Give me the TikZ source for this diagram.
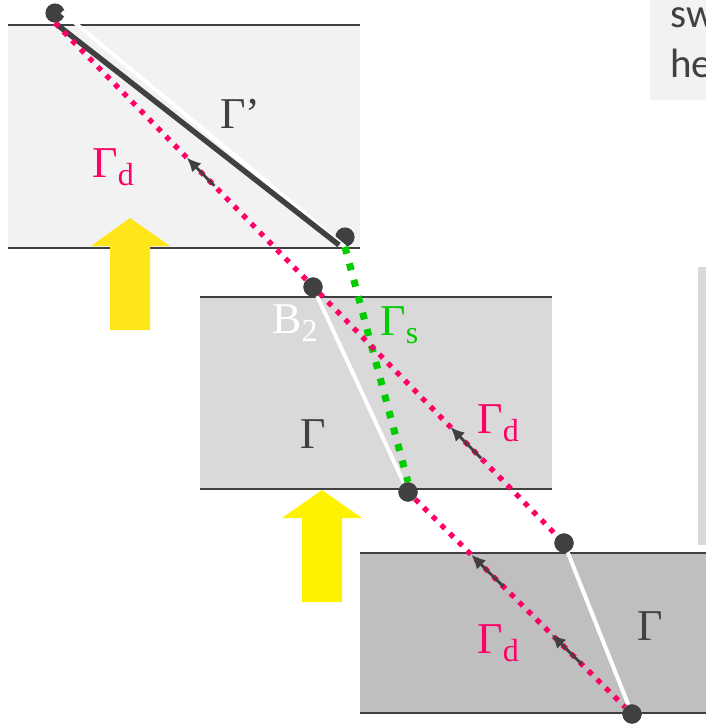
\documentclass[tikz,border=0pt]{standalone}
\usepackage{fontspec}
\setmainfont{Liberation Serif}
\newfontfamily\slidefont{Carlito}
\usetikzlibrary{arrows.meta,calc}
\definecolor{darkline}{HTML}{404040}
\definecolor{gammared}{HTML}{FF0066}
\definecolor{gammagreen}{HTML}{00CC00}
\definecolor{boxlight}{HTML}{F2F2F2}
\definecolor{boxmid}{HTML}{D9D9D9}
\definecolor{boxdark}{HTML}{BFBFBF}
\definecolor{pushyellow}{HTML}{FFE619}
\definecolor{pushyellowb}{HTML}{FFF200}
\newcommand{\lowsub}[1]{\raisebox{-4pt}{\fontsize{16}{16}\selectfont #1}}

\begin{document}
\begin{tikzpicture}[x=0.5pt,y=-0.5pt,
  dot/.style={circle,fill=darkline,inner sep=0pt,minimum size=9.6pt},
  rim/.style={darkline,line width=1pt},
  dline/.style={gammared,line width=2.6pt,dash pattern=on 2.6pt off 3.5pt},
  sline/.style={gammagreen,line width=3.5pt,dash pattern=on 3.5pt off 5pt},
  wline/.style={white,line width=2pt},
  flow/.style={darkline,line width=1.4pt,-{Latex[length=7pt,width=6.5pt]}},
  lbl/.style={inner sep=0pt,anchor=base west,font=\fontsize{22}{22}\selectfont}]
  \useasboundingbox (0,0) rectangle (706,724);
  \clip (0,0) rectangle (706,724);
  % Side panels of the slide
  \fill[boxlight] (650,0) rectangle (706,100);
  \node[inner sep=0pt,anchor=base west,darkline,font=\slidefont\fontsize{20.5}{20.5}\selectfont] (sw) at (670,27) {sw};
  \node[inner sep=0pt,anchor=base west,darkline,font=\slidefont\fontsize{20.5}{20.5}\selectfont] (he) at (670,77) {he};
  \fill[boxmid] (698,267) rectangle (706,545);
  % Three blocks
  \fill[boxlight] (8,25) rectangle (360,248);
  \draw[rim] (8,25) -- (360,25) (8,248) -- (360,248);
  \fill[boxmid] (200,297) rectangle (552,489);
  \draw[rim] (200,297) -- (552,297) (200,489) -- (552,489);
  \fill[boxdark] (360,553) rectangle (706,713);
  \draw[rim] (360,553) -- (706,553) (360,713) -- (706,713);
  % Pushing arrows
  \fill[pushyellow] (130,218) -- (170,246) -- (150,246) -- (150,330) -- (110,330) -- (110,246) -- (91,246) -- cycle;
  \fill[pushyellowb] (322,490) -- (362,518) -- (342,518) -- (342,602) -- (302,602) -- (302,518) -- (282,518) -- cycle;
  % Points
  \node[dot] (A) at (55,13) {};
  \node[dot] (B) at (345,237) {};
  \node[dot] (C) at (313,287) {};
  \node[dot] (D) at (408,492) {};
  \node[dot] (E) at (564,543) {};
  \node[dot] (F) at (632,714) {};
  % Boundaries
  \draw[wline] (62,12) -- (345,247);
  \draw[darkline,line width=2.7pt] (A.south) -- (339,245);
  \draw[wline] (C) -- (D);
  \draw[wline] (E) -- (F);
  \draw[sline] (B.south) -- (D.north);
  \draw[dline] (A.south) -- (E);
  \draw[dline] (D) -- (F);
  % Direction marks
  \draw[flow] ($(A.south)!0.313!(E)$) -- ($(A.south)!0.259!(E)$);
  \draw[flow] ($(A.south)!0.837!(E)$) -- ($(A.south)!0.777!(E)$);
  \draw[flow] ($(D)!0.426!(F)$) -- ($(D)!0.283!(F)$);
  \draw[flow] ($(D)!0.776!(F)$) -- ($(D)!0.641!(F)$);
  \node[dot] at (C) {};
  \node[dot] at (D) {};
  \node[dot] at (E) {};
  \node[dot] at (F) {};
  % Labels
  \node[lbl,darkline] (gp) at (220,128) {Γ’};
  \node[lbl,gammared] (gd1) at (92,177) {Γ\lowsub{d}};
  \node[lbl,gammared] (gd2) at (477,433) {Γ\lowsub{d}};
  \node[lbl,gammared] (gd3) at (477,653) {Γ\lowsub{d}};
  \node[lbl,gammagreen] (gs) at (380,335) {Γ\lowsub{s}};
  \node[lbl,white] (b2) at (272,333) {B\lowsub{2}};
  \node[lbl,darkline] (g1) at (300,448) {Γ};
  \node[lbl,darkline] (g2) at (637,640) {Γ};
\end{tikzpicture}
\end{document}
